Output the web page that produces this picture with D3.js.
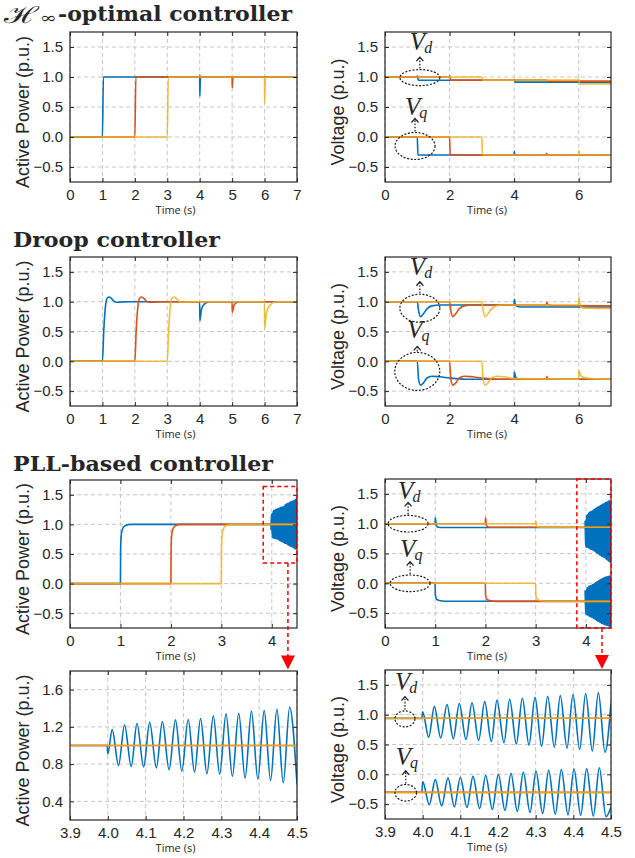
<!DOCTYPE html>
<html>
<head>
<meta charset="utf-8">
<script src="https://cdn.jsdelivr.net/npm/d3@7"></script>
<style>
  body { margin: 0; background: #fff; }
  svg text { fill: #262626; }
</style>
</head>
<body>
<svg width="635" height="858"></svg>
<script>
// ---------- tick labels ----------
const xTicksSeven = [0, 1, 2, 3, 4, 5, 6, 7];
const xTicksEven = [0, 2, 4, 6];
const xTicksPll = [0, 1, 2, 3, 4];
const xTicksZoom = [3.9, 4.0, 4.1, 4.2, 4.3, 4.4, 4.5];
const yTicksMain = [-0.5, 0, 0.5, 1.0, 1.5];
const yTicksZoomP = [0.4, 0.8, 1.2, 1.6];

// ---------- H-infinity controller ----------
const hinfP_blue = [[0,0],[1,0],[1.03,1],[3.998,1],[4.004,0.68],[4.02,0.97],[4.05,1],[7,1]];
const hinfP_red = [[0,0],[2,0],[2.03,1],[3.995,1],[4.005,1.03],[4.02,1],[4.998,1],[5.004,0.82],[5.02,0.97],[5.05,1],[7,1]];
const hinfP_yellow = [[0,0],[3,0],[3.03,1],[5.998,1],[6.004,0.56],[6.02,0.96],[6.06,1],[7,1]];

const hinfVd_blue = [[0,1],[0.998,1],[1.005,1.02],[1.03,0.945],[3.998,0.945],[4.005,0.96],[4.03,0.915],[7,0.915]];
const hinfVd_red = [[0,1],[1.998,1],[2.005,1.02],[2.03,0.948],[4.998,0.948],[5.03,0.932],[7,0.932]];
const hinfVd_yellow = [[0,1],[3,1],[3.03,0.948],[5.998,0.948],[6.005,0.96],[6.03,0.885],[7,0.885]];
const hinfVq_blue = [[0,0],[1,0],[1.02,-0.3],[3.998,-0.3],[4.004,-0.24],[4.02,-0.29],[4.04,-0.3],[7,-0.3]];
const hinfVq_red = [[0,0],[2,0],[2.02,-0.3],[4.998,-0.3],[5.004,-0.27],[5.03,-0.3],[7,-0.3]];
const hinfVq_yellow = [[0,0],[3,0],[3.02,-0.3],[5.998,-0.3],[6.004,-0.22],[6.02,-0.29],[6.06,-0.3],[7,-0.3]];

// ---------- droop controller ----------
const droopP_blue = [[0,0],[1,0],[1.04,0.5],[1.09,0.9],[1.14,1.05],[1.2,1.08],[1.27,1.06],[1.35,1.01],[1.45,0.99],[1.6,0.995],[1.8,1],[3.998,1],[4.004,0.68],[4.05,0.86],[4.1,0.93],[4.2,0.98],[4.3,1],[7,1]];
const droopP_red = [[0,0],[2,0],[2.04,0.5],[2.09,0.9],[2.14,1.05],[2.2,1.08],[2.27,1.06],[2.35,1.01],[2.45,0.99],[2.6,0.995],[2.8,1],[4.998,1],[5.004,0.82],[5.05,0.93],[5.1,0.97],[5.2,1],[7,1]];
const droopP_yellow = [[0,0],[3,0],[3.04,0.5],[3.09,0.9],[3.14,1.05],[3.2,1.08],[3.27,1.06],[3.35,1.01],[3.45,0.99],[3.6,0.995],[3.8,1],[5.998,1],[6.004,0.55],[6.05,0.78],[6.1,0.88],[6.2,0.96],[6.35,1],[7,1]];

const droopVd_blue = [[0,1],[1,1],[1.04,0.85],[1.1,0.75],[1.18,0.79],[1.3,0.88],[1.45,0.93],[1.7,0.945],[3.998,0.945],[4.008,1.04],[4.04,0.95],[4.1,0.92],[4.3,0.91],[7,0.91]];
const droopVd_red = [[0,1],[2,1],[2.04,0.85],[2.1,0.75],[2.18,0.79],[2.3,0.88],[2.45,0.93],[2.7,0.945],[4.998,0.945],[5.008,0.99],[5.05,0.95],[5.2,0.935],[7,0.93]];
const droopVd_yellow = [[0,1],[3,1],[3.04,0.85],[3.1,0.75],[3.18,0.79],[3.3,0.88],[3.45,0.93],[3.7,0.945],[5.998,0.945],[6.008,1.08],[6.04,0.96],[6.1,0.9],[6.3,0.89],[7,0.885]];
const droopVq_blue = [[0,0],[1,0],[1.04,-0.3],[1.1,-0.4],[1.18,-0.37],[1.3,-0.28],[1.45,-0.25],[1.7,-0.26],[2,-0.28],[2.5,-0.3],[3.998,-0.3],[4.005,-0.18],[4.05,-0.27],[4.15,-0.3],[7,-0.3]];
const droopVq_red = [[0,0],[2,0],[2.04,-0.3],[2.1,-0.4],[2.18,-0.37],[2.3,-0.28],[2.45,-0.25],[2.7,-0.26],[3,-0.28],[3.5,-0.3],[4.998,-0.3],[5.005,-0.26],[5.05,-0.29],[5.1,-0.3],[7,-0.3]];
const droopVq_yellow = [[0,0],[3,0],[3.04,-0.3],[3.1,-0.4],[3.18,-0.37],[3.3,-0.28],[3.45,-0.25],[3.7,-0.26],[4,-0.29],[5.998,-0.3],[6.005,-0.15],[6.05,-0.23],[6.15,-0.27],[6.4,-0.29],[7,-0.3]];

// ---------- PLL-based controller ----------
const pllP_blueStep = [[0,0],[1,0],[1.004,0.6],[1.02,0.85],[1.05,0.94],[1.1,0.98],[1.2,1],[3.998,1]];
// oscillation extrema (4.0 s - 4.5 s)
const pllP_blueOsc = [[4.0,0.91],[4.0115,1.17],[4.0283,0.786],[4.0442,1.22],[4.0619,0.775],[4.077,1.236],[4.0947,0.77],[4.1106,1.25],[4.1283,0.76],[4.1442,1.257],[4.1619,0.74],[4.1788,1.275],[4.1956,0.725],[4.2124,1.28],[4.2292,0.714],[4.2451,1.29],[4.2619,0.696],[4.2788,1.32],[4.2956,0.69],[4.3124,1.34],[4.3292,0.668],[4.346,1.346],[4.3628,0.65],[4.3796,1.37],[4.3965,0.64],[4.4133,1.375],[4.4301,0.625],[4.4469,1.39],[4.4637,0.6],[4.4805,1.41],[4.5,0.59]];
const pllP_red = [[0,0],[2,0],[2.004,0.6],[2.02,0.85],[2.05,0.94],[2.1,0.98],[2.2,1],[4.5,1]];
const pllP_yellow = [[0,0],[3,0],[3.004,0.6],[3.02,0.85],[3.05,0.94],[3.1,0.98],[3.2,1],[4.5,1]];

const pllVd_blueStep = [[0,1],[0.998,1],[1.003,1.1],[1.02,0.97],[1.06,0.94],[1.15,0.935],[3.998,0.935]];
const pllVd_blueOsc = [[4.0,1.05],[4.016,0.62],[4.031,1.135],[4.048,0.61],[4.0646,1.17],[4.0814,0.595],[4.0973,1.185],[4.115,0.585],[4.131,1.2],[4.1487,0.57],[4.1646,1.22],[4.1823,0.55],[4.1973,1.24],[4.2159,0.53],[4.231,1.26],[4.2487,0.51],[4.2646,1.275],[4.2823,0.49],[4.2982,1.29],[4.3159,0.47],[4.3319,1.31],[4.3496,0.455],[4.3655,1.32],[4.3832,0.44],[4.3991,1.34],[4.4168,0.415],[4.4327,1.355],[4.4504,0.39],[4.4664,1.37],[4.4841,0.37],[4.5,1.2]];
const pllVd_red = [[0,1],[1.998,1],[2.003,1.1],[2.02,0.97],[2.06,0.945],[2.15,0.94],[4.5,0.94]];
const pllVd_yellow = [[0,1],[2.998,1],[3.003,1.05],[3.02,0.96],[3.06,0.945],[3.15,0.94],[4.5,0.94]];

const pllVq_blueStep = [[0,0],[0.998,0],[1.003,-0.2],[1.03,-0.27],[1.08,-0.29],[1.2,-0.3],[3.998,-0.3]];
const pllVq_blueOsc = [[4.0,-0.12],[4.0177,-0.51],[4.0336,-0.09],[4.0504,-0.53],[4.0673,-0.06],[4.0841,-0.545],[4.1,-0.05],[4.1177,-0.556],[4.1336,-0.035],[4.1513,-0.573],[4.1673,-0.02],[4.185,-0.59],[4.2009,0.0],[4.2186,-0.607],[4.2345,0.017],[4.2513,-0.624],[4.2673,0.034],[4.285,-0.64],[4.3009,0.05],[4.3186,-0.657],[4.3345,0.067],[4.3522,-0.67],[4.3681,0.08],[4.3858,-0.68],[4.4018,0.09],[4.4195,-0.69],[4.4354,0.095],[4.4531,-0.7],[4.469,0.11],[4.4867,-0.71],[4.5,-0.55]];
const pllVq_red = [[0,0],[1.998,0],[2.003,-0.2],[2.03,-0.27],[2.08,-0.29],[2.2,-0.303],[4.5,-0.303]];
const pllVq_yellow = [[0,0],[2.998,0],[3.003,-0.2],[3.03,-0.27],[3.08,-0.29],[3.2,-0.303],[4.5,-0.303]];

const colors = ["#0072BD", "#D95319", "#EDB120"];

const svg = d3.select("svg");
const ink = "#262626";

const pllP_blue = pllP_blueStep.concat(pllP_blueOsc);
const pllVd_blue = pllVd_blueStep.concat(pllVd_blueOsc);
const pllVq_blue = pllVq_blueStep.concat(pllVq_blueOsc);

// panel boxes: [left, top, right, bottom]
// "dense" = oscillation drawn heavier so it reads as a solid band on the 0-4.5 s panels
const panels = [
    { id: "hp", box: [70, 32, 297, 182], xDom: [0, 7], xTicks: xTicksSeven, xFmt: "d",
      yDom: [-0.75, 1.75], yTicks: yTicksMain, yLabel: "Active Power (p.u.)",
      series: [[hinfP_blue, 0], [hinfP_red, 1], [hinfP_yellow, 2]] },
    { id: "hv", box: [385, 32, 611, 182], xDom: [0, 7], xTicks: xTicksEven, xFmt: "d",
      yDom: [-0.75, 1.75], yTicks: yTicksMain, yLabel: "Voltage (p.u.)",
      series: [[hinfVd_blue, 0], [hinfVq_blue, 0], [hinfVd_red, 1], [hinfVq_red, 1], [hinfVd_yellow, 2], [hinfVq_yellow, 2]] },
    { id: "dp", box: [70, 257, 297, 406], xDom: [0, 7], xTicks: xTicksSeven, xFmt: "d",
      yDom: [-0.75, 1.75], yTicks: yTicksMain, yLabel: "Active Power (p.u.)",
      series: [[droopP_blue, 0], [droopP_red, 1], [droopP_yellow, 2]] },
    { id: "dv", box: [385, 257, 611, 406], xDom: [0, 7], xTicks: xTicksEven, xFmt: "d",
      yDom: [-0.75, 1.75], yTicks: yTicksMain, yLabel: "Voltage (p.u.)",
      series: [[droopVd_blue, 0], [droopVq_blue, 0], [droopVd_red, 1], [droopVq_red, 1], [droopVd_yellow, 2], [droopVq_yellow, 2]] },
    { id: "pp", box: [70, 480, 297, 628], xDom: [0, 4.5], xTicks: xTicksPll, xFmt: "d",
      yDom: [-0.75, 1.75], yTicks: yTicksMain, yLabel: "Active Power (p.u.)",
      dense: [pllP_blueOsc],
      series: [[pllP_blue, 0], [pllP_red, 1], [pllP_yellow, 2]] },
    { id: "pv", box: [385, 479, 611, 628], xDom: [0, 4.5], xTicks: xTicksPll, xFmt: "d",
      yDom: [-0.75, 1.75], yTicks: yTicksMain, yLabel: "Voltage (p.u.)",
      dense: [pllVd_blueOsc, pllVq_blueOsc],
      series: [[pllVd_blue, 0], [pllVq_blue, 0], [pllVd_red, 1], [pllVq_red, 1], [pllVd_yellow, 2], [pllVq_yellow, 2]] },
    { id: "zp", box: [70, 671, 297, 820], xDom: [3.9, 4.5], xTicks: xTicksZoom, xFmt: ".1f",
      yDom: [0.2, 1.8], yTicks: yTicksZoomP, yLabel: "Active Power (p.u.)",
      series: [[pllP_blue, 0], [pllP_red, 1], [pllP_yellow, 2]] },
    { id: "zv", box: [385, 670, 611, 819], xDom: [3.9, 4.5], xTicks: xTicksZoom, xFmt: ".1f",
      yDom: [-0.75, 1.75], yTicks: yTicksMain, yLabel: "Voltage (p.u.)",
      series: [[pllVd_blue, 0], [pllVq_blue, 0], [pllVd_red, 1], [pllVq_red, 1], [pllVd_yellow, 2], [pllVq_yellow, 2]] }
];

const scales = {};

function styleAxis(g, labels) {
    g.select(".domain").remove();
    g.attr("color", ink);
    g.selectAll("text")
        .attr("font-family", "'Liberation Sans', Arial, sans-serif")
        .attr("font-size", 15)
        .style("display", labels ? null : "none");
}

panels.forEach((p) => {
    const [x0, y0, x1, y1] = p.box;
    const x = d3.scaleLinear().domain(p.xDom).range([x0, x1]);
    const y = d3.scaleLinear().domain(p.yDom).range([y1, y0]);
    scales[p.id] = { x, y };
    const g = svg.append("g").attr("id", p.id);

    // dashed grid
    const grid = g.append("g").attr("stroke", "#c6c6c6").attr("stroke-dasharray", "4,3").attr("stroke-width", 1);
    grid.selectAll(".gx").data(p.xTicks).join("line")
        .attr("x1", (d) => x(d)).attr("x2", (d) => x(d)).attr("y1", y0).attr("y2", y1);
    grid.selectAll(".gy").data(p.yTicks).join("line")
        .attr("y1", (d) => y(d)).attr("y2", (d) => y(d)).attr("x1", x0).attr("x2", x1);

    // curves
    svg.append("clipPath").attr("id", "clip-" + p.id)
        .append("rect").attr("x", x0).attr("y", y0).attr("width", x1 - x0).attr("height", y1 - y0);
    const line = d3.line().x((d) => x(d[0])).y((d) => y(d[1])).curve(d3.curveMonotoneX);
    const curves = g.append("g").attr("clip-path", `url(#clip-${p.id})`);
    if (p.dense) {
        curves.selectAll(".dense").data(p.dense).join("path")
            .attr("d", line)
            .attr("fill", "none")
            .attr("stroke", colors[0])
            .attr("stroke-width", 3.2);
    }
    curves.selectAll(".trace").data(p.series).join("path")
        .attr("d", (d) => line(d[0]))
        .attr("fill", "none")
        .attr("stroke", (d) => colors[d[1]])
        .attr("stroke-opacity", (d) => (d[1] === 2 ? 0.85 : 1))
        .attr("stroke-width", 1.6)
        .attr("stroke-linejoin", "round");

    // axes with inward ticks, mirrored on top and right
    const fmt = d3.format(p.xFmt);
    g.append("g").attr("transform", `translate(0,${y1})`)
        .call(d3.axisBottom(x).tickValues(p.xTicks).tickFormat(fmt).tickSizeInner(-4).tickSizeOuter(0).tickPadding(7))
        .call((a) => styleAxis(a, true));
    g.append("g").attr("transform", `translate(0,${y0})`)
        .call(d3.axisTop(x).tickValues(p.xTicks).tickSizeInner(-4).tickSizeOuter(0))
        .call((a) => styleAxis(a, false));
    g.append("g").attr("transform", `translate(${x0},0)`)
        .call(d3.axisLeft(y).tickValues(p.yTicks).tickFormat(d3.format(".1f")).tickSizeInner(-4).tickSizeOuter(0).tickPadding(7))
        .call((a) => styleAxis(a, true));
    g.append("g").attr("transform", `translate(${x1},0)`)
        .call(d3.axisRight(y).tickValues(p.yTicks).tickSizeInner(-4).tickSizeOuter(0))
        .call((a) => styleAxis(a, false));

    g.append("rect")
        .attr("x", x0).attr("y", y0).attr("width", x1 - x0).attr("height", y1 - y0)
        .attr("fill", "none").attr("stroke", ink).attr("stroke-width", 1.2);

    // axis titles
    const isLeft = x0 < 200;
    g.append("text")
        .attr("transform", `translate(${x0 - 41},${(y0 + y1) / 2 + 5}) rotate(-90)`)
        .attr("text-anchor", "middle")
        .attr("font-family", "'Liberation Sans', Arial, sans-serif")
        .attr("font-size", 18)
        .text(p.yLabel);
    g.append("text")
        .attr("x", (x0 + x1) / 2 - (isLeft ? 8 : 11))
        .attr("y", y1 + 31.5)
        .attr("text-anchor", "middle")
        .attr("font-family", "'Open Sans', sans-serif")
        .attr("font-size", 11)
        .text("Time (s)");
});

// ---------- section titles ----------
const titleFont = "'DejaVu Serif', serif";
svg.append("text").attr("x", 4).attr("y", 23)
    .attr("font-family", titleFont).attr("font-size", 23)
    .attr("textLength", 34).attr("lengthAdjust", "spacingAndGlyphs")
    .text("\u210B");
svg.append("text").attr("x", 40).attr("y", 23)
    .attr("font-family", titleFont).attr("font-size", 15)
    .attr("textLength", 17).attr("lengthAdjust", "spacingAndGlyphs")
    .text("\u221E");
svg.append("text").attr("x", 58).attr("y", 21)
    .attr("font-family", titleFont).attr("font-size", 21).attr("font-weight", "bold")
    .attr("textLength", 234).attr("lengthAdjust", "spacingAndGlyphs")
    .text("-optimal controller");
svg.append("text").attr("x", 13).attr("y", 246.5)
    .attr("font-family", titleFont).attr("font-size", 21).attr("font-weight", "bold")
    .attr("textLength", 207).attr("lengthAdjust", "spacingAndGlyphs")
    .text("Droop controller");
svg.append("text").attr("x", 13).attr("y", 470.5)
    .attr("font-family", titleFont).attr("font-size", 21).attr("font-weight", "bold")
    .attr("textLength", 260).attr("lengthAdjust", "spacingAndGlyphs")
    .text("PLL-based controller");

// ---------- Vd / Vq callouts (ellipse, dotted arrow, label) ----------
const callouts = [
    { panel: "hv", t: 1.08, v: 0.99, rx: 20, ry: 8, arrow: 12.5, gap: 7, sub: "d" },
    { panel: "hv", t: 0.93, v: -0.15, rx: 20, ry: 13.5, arrow: 14, gap: 4, sub: "q" },
    { panel: "dv", t: 1.08, v: 0.89, rx: 20, ry: 14, arrow: 12.5, gap: 7, sub: "d" },
    { panel: "dv", t: 1.0, v: -0.17, rx: 22.5, ry: 19, arrow: 6, gap: 8, sub: "q" },
    { panel: "pv", t: 0.46, v: 1.0, rx: 20, ry: 8.3, arrow: 13, gap: 3.5, sub: "d" },
    { panel: "pv", t: 0.5, v: 0.0, rx: 20, ry: 8.3, arrow: 13.3, gap: 5, sub: "q" },
    { panel: "zv", t: 3.953, v: 0.93, rx: 10, ry: 8, arrow: 14.3, gap: 6.5, sub: "d" },
    { panel: "zv", t: 3.955, v: -0.31, rx: 10.8, ry: 8.3, arrow: 13.7, gap: 5.7, sub: "q" }
];

callouts.forEach((c) => {
    const { x, y } = scales[c.panel];
    const cx = x(c.t), cy = y(c.v);
    const top = cy - c.ry, tip = top - c.arrow;
    const g = svg.append("g").attr("stroke", "#1a1a1a").attr("fill", "none");
    g.append("ellipse").attr("cx", cx).attr("cy", cy).attr("rx", c.rx).attr("ry", c.ry)
        .attr("stroke-width", 1.2).attr("stroke-dasharray", "2,1.6");
    g.append("line").attr("x1", cx).attr("x2", cx).attr("y1", top - 1).attr("y2", tip + 1)
        .attr("stroke-width", 1.2).attr("stroke-dasharray", "1.6,1.6");
    g.append("path").attr("d", `M${cx - 3.5},${tip + 4}L${cx},${tip}L${cx + 3.5},${tip + 4}`)
        .attr("stroke-width", 1.2);
    const lbl = svg.append("text").attr("x", cx - 10).attr("y", tip - c.gap)
        .attr("font-family", "'Liberation Serif', 'Times New Roman', serif")
        .attr("font-style", "italic").attr("font-size", 25).text("V");
    lbl.append("tspan").attr("font-size", 16).attr("dx", -1).attr("dy", 3).text(c.sub);
});

// ---------- red zoom markers ----------
function zoomMarker(panelId, t0, t1, v0, v1, tLine, arrowTip) {
    const { x, y } = scales[panelId];
    const g = svg.append("g").attr("stroke", "#ff0000").attr("fill", "none")
        .attr("stroke-width", 1.5).attr("stroke-dasharray", "4,3");
    g.append("rect").attr("x", x(t0)).attr("y", y(v1))
        .attr("width", x(t1) - x(t0)).attr("height", y(v0) - y(v1));
    const lx = x(tLine);
    g.append("line").attr("x1", lx).attr("x2", lx).attr("y1", y(v0)).attr("y2", arrowTip - 12);
    svg.append("path")
        .attr("d", `M${lx - 7},${arrowTip - 14}L${lx + 7},${arrowTip - 14}L${lx},${arrowTip}Z`)
        .attr("fill", "#ff0000");
}
zoomMarker("pp", 3.83, 4.5, 0.35, 1.64, 4.32, 669.5);
zoomMarker("pv", 3.82, 4.5, -0.75, 1.75, 4.32, 669);
</script>
</body>
</html>
